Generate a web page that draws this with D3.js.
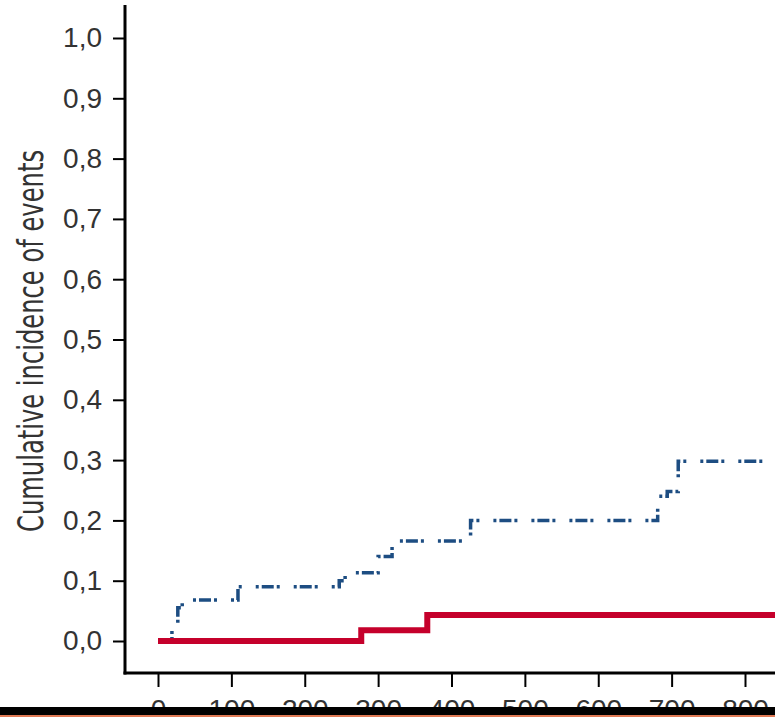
<!DOCTYPE html>
<html>
<head>
<meta charset="utf-8">
<script src="https://cdn.jsdelivr.net/npm/d3@7"></script>
<style>
  html, body { margin: 0; padding: 0; background: #fff; }
  svg { display: block; }
</style>
</head>
<body>
<script>
// ---- data ----
const xTicks = [0, 100, 200, 300, 400, 500, 600, 700, 800];
const xTickLabels = ["0", "100", "200", "300", "400", "500", "600", "700", "800"];
const yTicks = [0, 0.1, 0.2, 0.3, 0.4, 0.5, 0.6, 0.7, 0.8, 0.9, 1.0];
const yTickLabels = ["0,0", "0,1", "0,2", "0,3", "0,4", "0,5", "0,6", "0,7", "0,8", "0,9", "1,0"];
const yTitle = "Cumulative incidence of events";

const redTimes  = [0, 277, 367, 900];
const redValues = [0, 0.018, 0.043, 0.043];

const blueTimes  = [0, 19, 27, 33, 109, 247, 255, 300, 319, 426, 681, 694, 709, 900];
const blueValues = [0, 0.027, 0.055, 0.068, 0.09, 0.10, 0.113, 0.14, 0.166, 0.2, 0.24, 0.248, 0.298, 0.298];

// ---- layout ----
const W = 775, H = 717;
const svg = d3.select("body").append("svg").attr("width", W).attr("height", H);

const x = d3.scaleLinear().domain([0, 800]).range([158, 745]);
const y = d3.scaleLinear().domain([0, 1]).range([641, 38]);

const axisX0 = 125, axisY0 = 673;
const tickFont = "'Liberation Sans', Arial, sans-serif";

// y axis
const gy = svg.append("g").attr("transform", `translate(${axisX0},0)`)
  .call(d3.axisLeft(y).tickValues(yTicks).tickSize(12).tickPadding(11)
        .tickFormat((d, i) => yTickLabels[i]));
gy.select(".domain").remove();
gy.selectAll(".tick line").attr("stroke", "#000").attr("stroke-width", 2);
gy.selectAll(".tick text").attr("fill", "#333").attr("font-family", tickFont).attr("font-size", 28);

// x axis
const gx = svg.append("g").attr("transform", `translate(0,${axisY0})`)
  .call(d3.axisBottom(x).tickValues(xTicks).tickSize(14).tickPadding(12)
        .tickFormat((d, i) => xTickLabels[i]));
gx.select(".domain").remove();
gx.selectAll(".tick line").attr("stroke", "#000").attr("stroke-width", 2);
gx.selectAll(".tick text").attr("fill", "#333").attr("font-family", tickFont).attr("font-size", 28);

// axis lines
svg.append("line").attr("x1", axisX0).attr("x2", axisX0).attr("y1", 5).attr("y2", axisY0 + 1.5)
  .attr("stroke", "#000").attr("stroke-width", 3);
svg.append("line").attr("x1", axisX0 - 1.5).attr("x2", W).attr("y1", axisY0).attr("y2", axisY0)
  .attr("stroke", "#000").attr("stroke-width", 3);

// y title
svg.append("text")
  .attr("transform", `translate(43,341) rotate(-90)`)
  .attr("text-anchor", "middle")
  .attr("font-family", "'Liberation Sans Narrow', 'DejaVu Sans Condensed', sans-serif")
  .attr("font-size", 36)
  .attr("fill", "#333")
  .attr("textLength", 382)
  .attr("lengthAdjust", "spacingAndGlyphs")
  .text(yTitle);

// curves
const line = d3.line().curve(d3.curveStepAfter).x(d => x(d[0])).y(d => y(d[1]));

svg.append("path")
  .datum(blueTimes.map((t, i) => [t, blueValues[i]]))
  .attr("d", line)
  .attr("fill", "none")
  .attr("stroke", "#1d4d82")
  .attr("stroke-width", 3.5)
  .attr("stroke-dasharray", "3,3,12,3,3,14");

svg.append("path")
  .datum(redTimes.map((t, i) => [t, redValues[i]]))
  .attr("d", line)
  .attr("fill", "none")
  .attr("stroke", "#c5002b")
  .attr("stroke-width", 6);

// bottom bars
svg.append("rect").attr("x", 0).attr("y", 707).attr("width", W).attr("height", 8).attr("fill", "#000");
svg.append("rect").attr("x", 0).attr("y", 715).attr("width", W).attr("height", 2).attr("fill", "#e07a55");
</script>
</body>
</html>
